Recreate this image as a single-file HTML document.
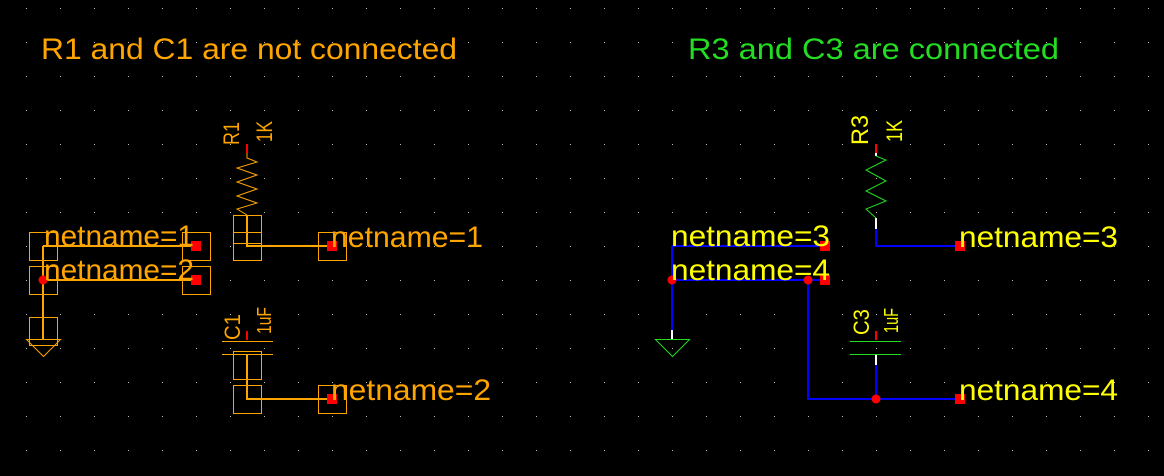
<!DOCTYPE html>
<html><head><meta charset="utf-8"><style>
html,body{margin:0;padding:0;background:#000;width:1164px;height:476px;overflow:hidden}
svg{display:block}
text{font-family:"Liberation Sans",sans-serif;font-size:30px}
</style></head><body>
<svg width="1164" height="476" viewBox="0 0 1164 476" xmlns="http://www.w3.org/2000/svg">
<defs>
<pattern id="g" x="26" y="8" width="34" height="34" patternUnits="userSpaceOnUse">
<rect x="0" y="0" width="1" height="1" fill="#bbb"/>
</pattern>
</defs>
<rect width="1164" height="476" fill="#000"/>
<rect width="1164" height="476" fill="url(#g)"/>

<!-- titles -->
<text x="41" y="59" fill="#ffa500" textLength="416" lengthAdjust="spacingAndGlyphs">R1 and C1 are not connected</text>
<text x="688" y="59" fill="#22dd22" textLength="371" lengthAdjust="spacingAndGlyphs">R3 and C3 are connected</text>

<!-- LEFT -->
<g fill="none" stroke="#ffa500" stroke-width="1">
<rect x="29.5" y="232.5" width="28" height="28"/>
<rect x="29.5" y="266.5" width="28" height="28"/>
<rect x="182.5" y="232.5" width="28" height="28"/>
<rect x="182.5" y="266.5" width="28" height="28"/>
<rect x="29.5" y="317.5" width="28" height="28"/>
<path d="M26.5 339.5 L60.5 339.5 L43.5 356.5 Z"/>
<rect x="233.5" y="215.5" width="28" height="45"/>
<line x1="233" y1="232.5" x2="262" y2="232.5"/>
<line x1="233" y1="243.5" x2="262" y2="243.5"/>
<rect x="318.5" y="232.5" width="28" height="28"/>
<rect x="233.5" y="351.5" width="28" height="28"/>
<rect x="233.5" y="385.5" width="28" height="28"/>
<rect x="318.5" y="385.5" width="28" height="28"/>
<line x1="222" y1="341.5" x2="273" y2="341.5"/>
<line x1="222" y1="354.5" x2="273" y2="354.5"/>
<polyline points="247,153 247,158 257,162 237,168 257,175 237,182 257,189 237,196 257,203 237,209 247,215"/>
</g>
<g fill="none" stroke="#ffa500" stroke-width="2">
<polyline points="43,246 196,246"/>
<polyline points="43,246 43,339"/>
<polyline points="43,280 196,280"/>
<polyline points="247,215 247,246 332,246"/>
<polyline points="247,354 247,399 332,399"/>
</g>
<rect x="246" y="144" width="2" height="9" fill="#f00"/>
<rect x="246" y="331" width="2" height="9" fill="#f00"/>
<g fill="#f00">
<rect x="191" y="241" width="10" height="10"/>
<rect x="191" y="275" width="10" height="10"/>
<rect x="327" y="241" width="10" height="10"/>
<rect x="327" y="394" width="10" height="10"/>
<circle cx="43" cy="280" r="4.5"/>
</g>
<g fill="#ffa500">
<text x="44" y="246" textLength="150" lengthAdjust="spacingAndGlyphs">netname=1</text>
<text x="44" y="280" textLength="150" lengthAdjust="spacingAndGlyphs">netname=2</text>
<text x="331" y="247" textLength="152" lengthAdjust="spacingAndGlyphs">netname=1</text>
<text x="331" y="400" textLength="160" lengthAdjust="spacingAndGlyphs">netname=2</text>
<text transform="translate(239,145) rotate(-90)" style="font-size:22px" textLength="23" lengthAdjust="spacingAndGlyphs">R1</text>
<text transform="translate(272,142) rotate(-90)" style="font-size:22px" textLength="21" lengthAdjust="spacingAndGlyphs">1K</text>
<text transform="translate(240,340) rotate(-90)" style="font-size:22px" textLength="26" lengthAdjust="spacingAndGlyphs">C1</text>
<text transform="translate(271,334) rotate(-90)" style="font-size:20px" textLength="27" lengthAdjust="spacingAndGlyphs">1uF</text>
</g>

<!-- RIGHT -->
<g fill="none" stroke="#0000ff" stroke-width="2">
<polyline points="672,246 825,246"/>
<polyline points="672,246 672,330"/>
<polyline points="672,280 825,280"/>
<polyline points="808,280 808,399 960,399"/>
<polyline points="876,229 876,246 960,246"/>
<polyline points="876,365 876,399"/>
</g>
<g stroke="#fff" stroke-width="2">
<line x1="672" y1="330" x2="672" y2="339"/>
<line x1="876" y1="218" x2="876" y2="229"/>
<line x1="876" y1="153" x2="876" y2="156"/>
<line x1="876" y1="355" x2="876" y2="365"/>
</g>
<g fill="none" stroke="#22dd22" stroke-width="1">
<path d="M655.5 339.5 L689.5 339.5 L672.5 356.5 Z"/>
<polyline points="876,156 886,160 866,170 886,181 866,191 886,201 866,209 876,218"/>
<line x1="850" y1="341.5" x2="901" y2="341.5"/>
<line x1="850" y1="354.5" x2="901" y2="354.5"/>
</g>
<rect x="875" y="144" width="2" height="9" fill="#f00"/>
<rect x="875" y="331" width="2" height="9" fill="#f00"/>
<g fill="#f00">
<rect x="820" y="241" width="10" height="10"/>
<rect x="820" y="275" width="10" height="10"/>
<rect x="955" y="241" width="10" height="10"/>
<rect x="955" y="394" width="10" height="10"/>
<circle cx="672" cy="280" r="4.5"/>
<circle cx="808" cy="280" r="4.5"/>
<circle cx="876" cy="399" r="4.5"/>
</g>
<g fill="#ffff00">
<text x="671" y="246" textLength="159" lengthAdjust="spacingAndGlyphs">netname=3</text>
<text x="671" y="280" textLength="159" lengthAdjust="spacingAndGlyphs">netname=4</text>
<text x="959" y="247" textLength="159" lengthAdjust="spacingAndGlyphs">netname=3</text>
<text x="959" y="400" textLength="159" lengthAdjust="spacingAndGlyphs">netname=4</text>
<text transform="translate(868,145) rotate(-90)" style="font-size:24px" textLength="30" lengthAdjust="spacingAndGlyphs">R3</text>
<text transform="translate(902,142) rotate(-90)" style="font-size:22px" textLength="22" lengthAdjust="spacingAndGlyphs">1K</text>
<text transform="translate(869,335) rotate(-90)" style="font-size:22px" textLength="26" lengthAdjust="spacingAndGlyphs">C3</text>
<text transform="translate(898,333) rotate(-90)" style="font-size:20px" textLength="25" lengthAdjust="spacingAndGlyphs">1uF</text>
</g>
</svg>
</body></html>
